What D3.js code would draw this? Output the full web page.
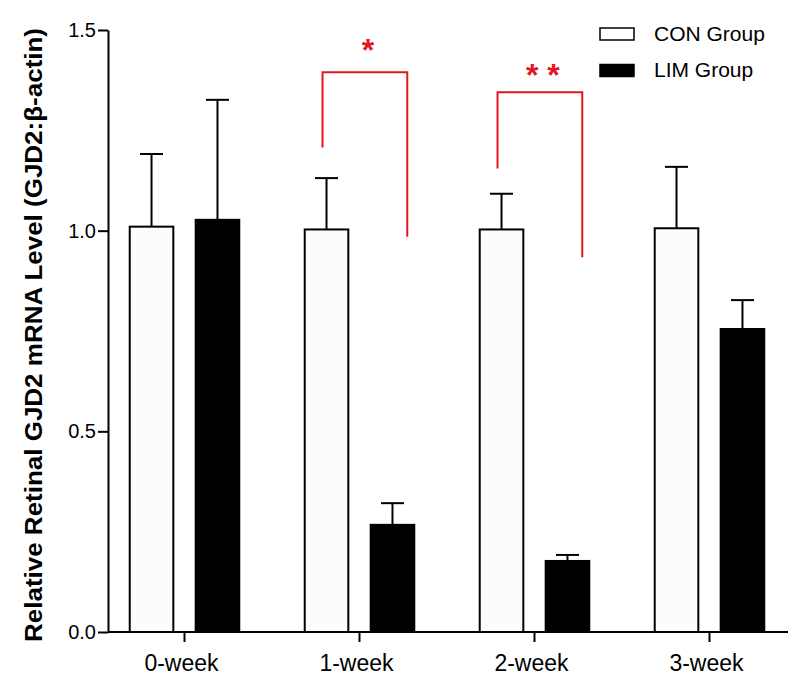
<!DOCTYPE html>
<html>
<head>
<meta charset="utf-8">
<script src="https://cdn.jsdelivr.net/npm/d3@7"></script>
<style>
  html, body { margin: 0; padding: 0; background: #ffffff; }
  svg { display: block; }
  text { font-family: "Liberation Sans", Arial, Helvetica, sans-serif; fill: #000; }
</style>
</head>
<body>
<script>
// ---- data ----
const categories = ["0-week", "1-week", "2-week", "3-week"];
const groups = ["CON Group", "LIM Group"];
const conMean = [1.010, 1.003, 1.003, 1.006];
const conSem  = [0.181, 0.128, 0.089, 0.153];
const limMean = [1.027, 0.267, 0.177, 0.755];
const limSem  = [0.299, 0.054, 0.015, 0.072];
const yTicks = [0, 0.5, 1.0, 1.5];
const sigCats = ["1-week", "2-week"];
const sigLabels = ["*", "* *"];
const sigTop = [1.395, 1.345];
const sigLeftEnd = [1.207, 1.155];
const sigRightEnd = [0.985, 0.934];
const sigLabelY = [1.468, 1.406];

// ---- layout ----
const W = 800, H = 686;
const svg = d3.select("body").append("svg").attr("width", W).attr("height", H);
svg.append("rect").attr("width", W).attr("height", H).attr("fill", "#fff");

const y = d3.scaleLinear().domain([0, 1.5]).range([632, 30]);
const x = d3.scaleBand().domain(categories).range([97, 797])
  .paddingInner(0.374).paddingOuter(0.187);
const xi = d3.scaleBand().domain(groups).range([0, x.bandwidth()])
  .paddingInner(0.339).paddingOuter(0);
const bw = xi.bandwidth();

const fills = { "CON Group": "#fcfcfc", "LIM Group": "#000000" };
const means = { "CON Group": conMean, "LIM Group": limMean };
const sems = { "CON Group": conSem, "LIM Group": limSem };

const rows = [];
categories.forEach((c, i) => groups.forEach(g => rows.push({ cat: c, grp: g, m: means[g][i], e: sems[g][i] })));

// bars
svg.append("g").selectAll("rect").data(rows).join("rect")
  .attr("x", d => x(d.cat) + xi(d.grp))
  .attr("y", d => y(d.m))
  .attr("width", bw)
  .attr("height", d => y(0) - y(d.m))
  .attr("fill", d => fills[d.grp])
  .attr("stroke", "#000").attr("stroke-width", 2);

// error bars (upper only)
const eb = svg.append("g").attr("stroke", "#000").attr("stroke-width", 2);
rows.forEach(d => {
  const cx = x(d.cat) + xi(d.grp) + bw / 2;
  eb.append("line").attr("x1", cx).attr("x2", cx).attr("y1", y(d.m)).attr("y2", y(d.m + d.e));
  eb.append("line").attr("x1", cx - 11.5).attr("x2", cx + 11.5).attr("y1", y(d.m + d.e)).attr("y2", y(d.m + d.e));
});

// y axis
const yAxis = svg.append("g").attr("transform", "translate(108,0)")
  .call(d3.axisLeft(y).tickValues(yTicks).tickFormat(d3.format(".1f")).tickSize(10).tickPadding(2).tickSizeOuter(0));
yAxis.selectAll("path, line").attr("stroke", "#000").attr("stroke-width", 2);
yAxis.selectAll("text").attr("font-size", 20).attr("font-family", "'Liberation Sans', Arial, sans-serif");

// x axis
const xAxis = svg.append("g").attr("transform", "translate(0,632)")
  .call(d3.axisBottom(x).tickSize(10).tickPadding(13).tickSizeOuter(0));
xAxis.select(".domain").remove();
xAxis.selectAll("line").attr("stroke", "#000").attr("stroke-width", 2);
xAxis.selectAll("text").attr("font-size", 23).attr("dx", -3).attr("font-family", "'Liberation Sans', Arial, sans-serif");
svg.append("line").attr("x1", 108).attr("x2", 788).attr("y1", y(0)).attr("y2", y(0))
  .attr("stroke", "#000").attr("stroke-width", 2);

// y label
svg.append("text")
  .attr("transform", "translate(42," + ((y(0) + y(1.5)) / 2 + 4) + ") rotate(-90)")
  .attr("text-anchor", "middle")
  .attr("font-size", 24).attr("font-weight", "bold")
  .attr("textLength", 614).attr("lengthAdjust", "spacingAndGlyphs")
  .text("Relative Retinal GJD2 mRNA Level (GJD2:β-actin)");

// significance brackets
const red = "#e3161d";
sigCats.forEach((c, i) => {
  const xl = x(c) + xi("CON Group") + bw / 2 - 4;
  const xr = x(c) + xi("LIM Group") + bw - 7;
  svg.append("path")
    .attr("d", `M${xl},${y(sigLeftEnd[i])}V${y(sigTop[i])}H${xr}V${y(sigRightEnd[i])}`)
    .attr("fill", "none").attr("stroke", red).attr("stroke-width", 2);
  const fs = 32;
  svg.append("text")
    .attr("x", (xl + xr) / 2 + 3)
    .attr("y", y(sigLabelY[i]) + 0.57 * fs)
    .attr("text-anchor", "middle")
    .attr("font-size", fs).attr("font-weight", "bold")
    .attr("letter-spacing", 0)
    .style("fill", red)
    .text(sigLabels[i]);
});

// legend
const legY = [28, 64.5];
const legBase = [40.5, 77];
groups.forEach((g, i) => {
  svg.append("rect").attr("x", 600).attr("y", legY[i]).attr("width", 34).attr("height", 12)
    .attr("fill", g === "CON Group" ? "#fff" : "#000").attr("stroke", "#000").attr("stroke-width", 1.5);
  svg.append("text").attr("x", 654).attr("y", legBase[i]).attr("font-size", 21).text(g);
});
</script>
</body>
</html>
